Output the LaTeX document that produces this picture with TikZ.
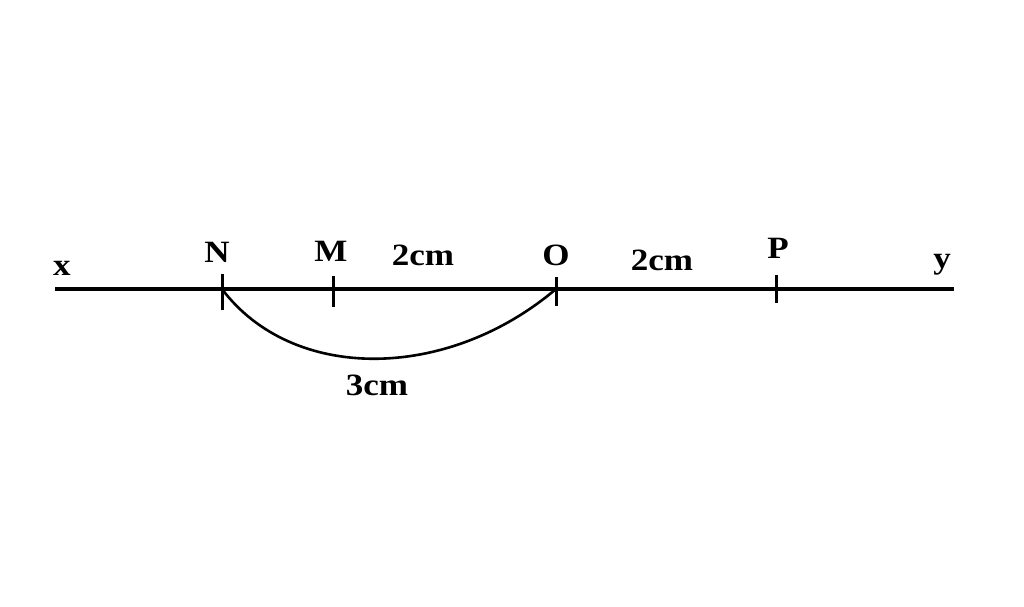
\documentclass[tikz,border=0pt]{standalone}
\usepackage{fontspec}
\setmainfont{Liberation Serif}
\newcommand{\widetxt}[1]{\scalebox{1.13}[1]{#1}}
\begin{document}
\begin{tikzpicture}[x=1pt,y=-1pt,
  lbl/.style={inner sep=0pt,anchor=base,font=\fontsize{31}{37}\selectfont\bfseries},
  ln/.style={line width=3.2pt},
  tk/.style={line width=3pt}]
\useasboundingbox (0,0) rectangle (1024,606);
\fill[white] (0,0) rectangle (1024,606);
% axis end points
\coordinate (L) at (55,289);
\coordinate (R) at (954,289);
\draw[ln] (L) -- (R);
% ticks
\coordinate (Np) at (222,289);
\coordinate (Mp) at (333,289);
\coordinate (Op) at (556,289);
\coordinate (Pp) at (776,289);
\draw[tk] (222,274) -- (222,310);
\draw[tk] (333,276) -- (333,307);
\draw[tk] (556,277) -- (556,306);
\draw[tk] (776,275) -- (776,303);
% arc
\draw[line width=2.6pt] (Np) .. controls (292,382) and (446,382) .. (Op);
% labels
\node[lbl] (x) at (62,275) {\widetxt{x}};
\node[lbl] (N) at (217,262) {\widetxt{N}};
\node[lbl] (M) at (331,261) {\widetxt{M}};
\node[lbl] (d1) at (423,265) {\widetxt{2cm}};
\node[lbl] (O) at (556,265) {\widetxt{O}};
\node[lbl] (d2) at (662,270) {\widetxt{2cm}};
\node[lbl] (P) at (778,258) {\widetxt{P}};
\node[lbl] (y) at (942,268) {\widetxt{y}};
\node[lbl] (d3) at (377,395) {\widetxt{3cm}};
\end{tikzpicture}
\end{document}
